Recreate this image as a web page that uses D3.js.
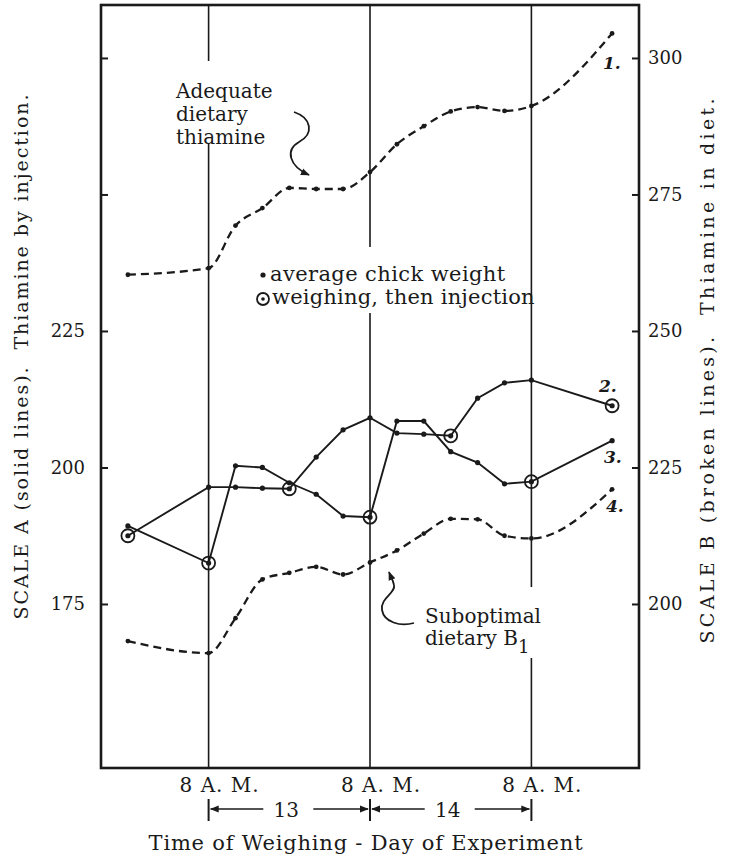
<!DOCTYPE html>
<html>
<head>
<meta charset="utf-8">
<script src="https://cdn.jsdelivr.net/npm/d3@7"></script>
<style>
  html, body { margin: 0; padding: 0; background: #fff; }
  svg { display: block; }
  text { font-family: "DejaVu Serif", serif; fill: #1a1a1a; }
</style>
</head>
<body>
<svg id="chart" width="731" height="860"></svg>
<script>
// hours since 8 P.M. of day 12 (8 A.M. day 13 = 16)
const hours = [4, 16, 20, 24, 28, 32, 36, 40, 44, 48, 52, 56, 60, 64, 76];

// solid lines, scale A
const line2 = [187.5, 196.4, 196.4, 196.2, 196.1, 201.9, 206.9, 209.1, 206.3, 206.1, 205.8, 212.7, 215.5, 216.0, 211.3];
const line3 = [189.3, 182.5, 200.3, 200.0, 197.2, 195.1, 191.1, 190.9, 208.5, 208.5, 202.9, 200.9, 197.0, 197.4, 204.9];
const line2Injections = [4, 28, 52, 76];
const line3Injections = [16, 40, 64];

// broken lines, scale B
const line1 = [260.3, 261.5, 269.3, 272.5, 276.2, 276.0, 276.0, 279.1, 284.2, 287.5, 290.2, 291.0, 290.3, 291.2, 304.5];
const line4 = [193.2, 191.0, 197.4, 204.5, 205.7, 206.8, 205.4, 207.6, 209.8, 212.9, 215.6, 215.5, 212.5, 212.0, 221.0];

const ticksA = [175, 200, 225, 250, 275];
const labelsA = [175, 200, 225];
const ticksB = [200, 225, 250, 275, 300];
const morningHours = [16, 40, 64];
const days = [
  { label: '13', from: 16, to: 40 },
  { label: '14', from: 40, to: 64 }
];

const svg = d3.select('#chart');
const box = { left: 101, right: 639, top: 5, bottom: 768 };

const x = d3.scaleLinear().domain([0, 80]).range([box.left, box.right]);
const yA = d3.scaleLinear().domain([144.96, 284.7]).range([box.bottom, box.top]);
const yB = d3.scaleLinear().domain([169.96, 309.7]).range([box.bottom, box.top]);

// arrow markers
const defs = svg.append('defs');
defs.append('marker')
  .attr('id', 'head').attr('viewBox', '0 0 10 10')
  .attr('refX', 9).attr('refY', 5)
  .attr('markerWidth', 9).attr('markerHeight', 9)
  .attr('markerUnits', 'userSpaceOnUse')
  .attr('orient', 'auto-start-reverse')
  .append('path').attr('d', 'M0,1 L10,5 L0,9 Z').attr('fill', '#1a1a1a');

// 8 A.M. verticals, broken where text sits on them
const gaps = { 16: [61, 143], 40: [247, 313], 64: [587, 658] };
morningHours.forEach(h => {
  const [g0, g1] = gaps[h];
  [[box.top, g0], [g1, box.bottom]].forEach(([a, b]) => {
    svg.append('line')
      .attr('x1', x(h)).attr('x2', x(h)).attr('y1', a).attr('y2', b)
      .attr('stroke', '#1a1a1a').attr('stroke-width', 1.6);
  });
});

// frame
svg.append('rect')
  .attr('x', box.left).attr('y', box.top)
  .attr('width', box.right - box.left).attr('height', box.bottom - box.top)
  .attr('fill', 'none').attr('stroke', '#1a1a1a').attr('stroke-width', 2.6);

// axes
const axA = svg.append('g').attr('transform', `translate(${box.left},0)`)
  .call(d3.axisLeft(yA).tickValues(ticksA).tickSize(-7).tickPadding(16)
    .tickFormat(d => labelsA.includes(d) ? d : ''));
const axB = svg.append('g').attr('transform', `translate(${box.right},0)`)
  .call(d3.axisRight(yB).tickValues(ticksB).tickSize(-7).tickPadding(9));
[axA, axB].forEach(ax => {
  ax.select('.domain').remove();
  ax.selectAll('.tick line').attr('stroke', '#1a1a1a').attr('stroke-width', 2);
  ax.selectAll('.tick text').attr('font-family', '"DejaVu Serif", serif')
    .attr('font-size', 18).attr('fill', '#1a1a1a');
});

// axis titles
svg.append('text')
  .attr('transform', 'translate(28,357) rotate(-90)')
  .attr('text-anchor', 'middle').attr('font-size', 19)
  .attr('textLength', 525).attr('lengthAdjust', 'spacing')
  .attr('xml:space', 'preserve')
  .text('SCALE A (solid lines).  Thiamine by injection.');
svg.append('text')
  .attr('transform', 'translate(714,371) rotate(-90)')
  .attr('text-anchor', 'middle').attr('font-size', 19)
  .attr('textLength', 545).attr('lengthAdjust', 'spacing')
  .attr('xml:space', 'preserve')
  .text('SCALE B (broken lines).  Thiamine in diet.');

// x labels
svg.selectAll('.am').data(morningHours).join('text')
  .attr('x', d => x(d) + 11).attr('y', 792)
  .attr('text-anchor', 'middle').attr('font-size', 20).attr('letter-spacing', 1)
  .text('8 A. M.');

const dayG = svg.append('g');
morningHours.forEach(h => {
  dayG.append('line').attr('x1', x(h)).attr('x2', x(h)).attr('y1', 799).attr('y2', 821)
    .attr('stroke', '#1a1a1a').attr('stroke-width', 2);
});
days.forEach(d => {
  const mid = (x(d.from) + x(d.to)) / 2;
  dayG.append('line').attr('x1', mid - 26).attr('x2', x(d.from) + 2).attr('y1', 809).attr('y2', 809)
    .attr('stroke', '#1a1a1a').attr('stroke-width', 1.6).attr('marker-end', 'url(#head)');
  dayG.append('line').attr('x1', mid + 24).attr('x2', x(d.to) - 2).attr('y1', 809).attr('y2', 809)
    .attr('stroke', '#1a1a1a').attr('stroke-width', 1.6).attr('marker-end', 'url(#head)');
  dayG.append('text').attr('x', mid - 3).attr('y', 817).attr('text-anchor', 'middle')
    .attr('font-size', 20).text(d.label);
});

svg.append('text').attr('x', 366).attr('y', 850).attr('text-anchor', 'middle')
  .attr('font-size', 21).attr('letter-spacing', 0.8)
  .text('Time of Weighing - Day of Experiment');

// series
const solidLine = (yScale) => d3.line().x((d, i) => x(hours[i])).y(d => yScale(d));
const brokenLine = d3.line().x((d, i) => x(hours[i])).y(d => yB(d)).curve(d3.curveMonotoneX);

[line1, line4].forEach(vals => {
  svg.append('path').datum(vals).attr('d', brokenLine)
    .attr('fill', 'none').attr('stroke', '#1a1a1a').attr('stroke-width', 2.3)
    .attr('stroke-dasharray', '8,5');
  svg.append('g').selectAll('circle').data(vals).join('circle')
    .attr('cx', (d, i) => x(hours[i])).attr('cy', d => yB(d)).attr('r', 2.4)
    .attr('fill', '#1a1a1a');
});

[[line2, line2Injections], [line3, line3Injections]].forEach(([vals, inj]) => {
  svg.append('path').datum(vals).attr('d', solidLine(yA))
    .attr('fill', 'none').attr('stroke', '#1a1a1a').attr('stroke-width', 1.9);
  svg.append('g').selectAll('circle').data(vals).join('circle')
    .attr('cx', (d, i) => x(hours[i])).attr('cy', d => yA(d)).attr('r', 2.6)
    .attr('fill', '#1a1a1a');
  const rings = vals.map((v, i) => ({ h: hours[i], v })).filter(p => inj.includes(p.h));
  svg.append('g').selectAll('circle').data(rings).join('circle')
    .attr('cx', d => x(d.h)).attr('cy', d => yA(d.v)).attr('r', 6.5)
    .attr('fill', 'none').attr('stroke', '#1a1a1a').attr('stroke-width', 1.8);
});

// line numbers
const tags = [
  { t: '1.', x: 603, y: 69 }, { t: '2.', x: 599, y: 392 },
  { t: '3.', x: 604, y: 463 }, { t: '4.', x: 606, y: 512 }
];
svg.selectAll('.tag').data(tags).join('text')
  .attr('x', d => d.x).attr('y', d => d.y)
  .attr('font-size', 17).attr('font-style', 'italic').attr('font-weight', 'bold')
  .text(d => d.t);

// legend
svg.append('circle').attr('cx', 263).attr('cy', 275).attr('r', 2.6).attr('fill', '#1a1a1a');
svg.append('text').attr('x', 270).attr('y', 281).attr('font-size', 21).attr('letter-spacing', 0.4)
  .text('average chick weight');
svg.append('circle').attr('cx', 263).attr('cy', 299).attr('r', 6).attr('fill', 'none')
  .attr('stroke', '#1a1a1a').attr('stroke-width', 1.8);
svg.append('circle').attr('cx', 263).attr('cy', 299).attr('r', 1.8).attr('fill', '#1a1a1a');
svg.append('text').attr('x', 272).attr('y', 304).attr('font-size', 21).attr('letter-spacing', 0.2)
  .text('weighing, then injection');

// annotations
const note1 = svg.append('text').attr('font-size', 20);
['Adequate', 'dietary', 'thiamine'].forEach((s, i) => {
  note1.append('tspan').attr('x', 176).attr('y', 98 + i * 23).text(s);
});
svg.append('path')
  .attr('d', 'M294,112 C312,118 314,134 299,142 C285,150 289,166 309,175')
  .attr('fill', 'none').attr('stroke', '#1a1a1a').attr('stroke-width', 1.8)
  .attr('marker-end', 'url(#head)');

const note2 = svg.append('text').attr('font-size', 20);
note2.append('tspan').attr('x', 425).attr('y', 623).text('Suboptimal');
note2.append('tspan').attr('x', 425).attr('y', 645).text('dietary B');
note2.append('tspan').attr('dy', 8).attr('font-size', 18).text('1');
svg.append('path')
  .attr('d', 'M414,623 C400,627 384,622 382,610 C380,598 396,593 394,585 C393,580 391,577 389,572')
  .attr('fill', 'none').attr('stroke', '#1a1a1a').attr('stroke-width', 1.8)
  .attr('marker-end', 'url(#head)');
</script>
</body>
</html>
